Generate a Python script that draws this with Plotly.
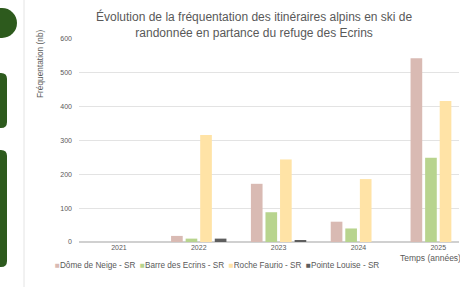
import plotly.graph_objects as go

years = ["2021", "2022", "2023", "2024", "2025"]
series_names = ["Dôme de Neige - SR", "Barre des Ecrins - SR", "Roche Faurio - SR", "Pointe Louise - SR"]
dome_neige = [None, 18, 172, 60, 543]
barre_ecrins = [None, 10, 88, 40, 249]
roche_faurio = [None, 316, 244, 186, 417]
pointe_louise = [None, 10, 5, 0, 0]
colors = ["#D9BAB3", "#B8D48E", "#FFE3A6", "#5E5E5E"]
y_ticks = [0, 100, 200, 300, 400, 500, 600]

W, H = 460, 287
L, R, T, B = 79, 1, 39, 45
PW, PH = W - L - R, H - T - B
FONT = "Liberation Sans"


def px(x):
    return (x - L) / PW


def py(y):
    return (H - B - y) / PH


fig = go.Figure()
for name, vals, col in zip(series_names, [dome_neige, barre_ecrins, roche_faurio, pointe_louise], colors):
    fig.add_trace(go.Bar(x=years, y=vals, name=name, marker=dict(color=col, line=dict(width=0))))

shapes = []
shapes.append(dict(type="line", xref="paper", yref="paper", x0=px(24), x1=px(24), y0=py(0), y1=py(H),
                   line=dict(color="#E4E4E4", width=1)))


def rrect(x0, y0, x1, y1, r):
    rx, ry = r / PW, r / PH
    X0, X1 = px(x0), px(x1)
    Y0, Y1 = py(y0), py(y1)
    return (f"M {X0},{Y0} L {X1 - rx},{Y0} Q {X1},{Y0} {X1},{Y0 - ry} "
            f"L {X1},{Y1 + ry} Q {X1},{Y1} {X1 - rx},{Y1} L {X0},{Y1} Z")


green = "#2D5A1D"
shapes.append(dict(type="circle", xref="paper", yref="paper", x0=px(-13), x1=px(17), y0=py(38), y1=py(8),
                   fillcolor=green, line=dict(width=0)))
shapes.append(dict(type="path", xref="paper", yref="paper", path=rrect(-5, 73, 7, 128, 6),
                   fillcolor=green, line=dict(width=0)))
shapes.append(dict(type="path", xref="paper", yref="paper", path=rrect(-5, 150, 7, 267, 6),
                   fillcolor=green, line=dict(width=0)))

legend_text = "  ".join(f'<span style="color:{c}">■</span>{n}' for n, c in zip(series_names, colors))
title_text = ("Évolution de la fréquentation des itinéraires alpins en ski de<br>"
              "randonnée en partance du refuge des Ecrins")

annotations = [
    dict(text=title_text, xref="paper", yref="paper", x=px(254), y=py(7), xanchor="center",
         yanchor="top", showarrow=False, align="center",
         font=dict(size=12, color="#595959", family=FONT)),
    dict(text="ABSENCE DE DONNÉES", x="2021", y=190, xref="x", yref="y", textangle=-90, showarrow=False,
         font=dict(size=7.5, color="#404040", family=FONT)),
    dict(text="Fréquentation (nb)", xref="paper", yref="paper", x=px(40), y=py(28), xanchor="center",
         yanchor="top", textangle=-90, showarrow=False, font=dict(size=8.3, color="#595959", family=FONT)),
    dict(text="Temps (années)", xref="paper", yref="paper", x=px(463), y=py(258), xanchor="right",
         yanchor="middle", showarrow=False, font=dict(size=8.5, color="#595959", family=FONT)),
    dict(text=legend_text, xref="paper", yref="paper", x=px(53), y=py(265), xanchor="left",
         yanchor="middle", showarrow=False, font=dict(size=8.2, color="#595959", family=FONT)),
]

fig.update_layout(
    width=W, height=H,
    margin=dict(l=L, r=R, t=T, b=B, pad=0, autoexpand=False),
    paper_bgcolor="white", plot_bgcolor="white",
    barmode="group", bargap=0.27, bargroupgap=0.2,
    showlegend=False,
    shapes=shapes,
    annotations=annotations,
    font=dict(family=FONT),
)
fig.update_xaxes(range=[-0.5, 4.26], showgrid=False, showline=False, ticks="",
                 tickfont=dict(size=7, color="#595959"), automargin=False)
fig.update_yaxes(range=[0, 600], tickvals=y_ticks, showgrid=True, gridcolor="#E3E3E3", gridwidth=1,
                 zeroline=True, zerolinecolor="#D0D0D0", showline=False, ticks="",
                 tickfont=dict(size=7, color="#595959"), ticklabelstandoff=6, automargin=False)

fig.write_html("out.html", config={"displayModeBar": False},
               post_script="document.body.style.margin='0';")
